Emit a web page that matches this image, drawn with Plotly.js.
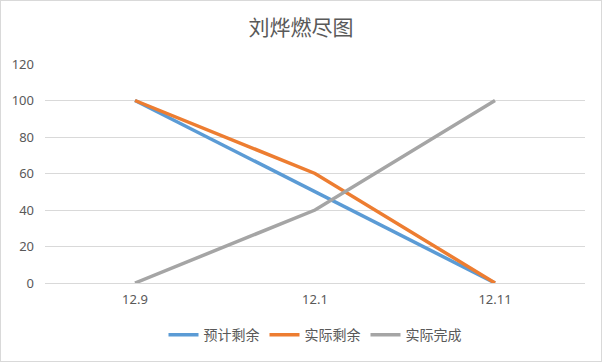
<!DOCTYPE html>
<html>
<head>
<meta charset="utf-8">
<script src="https://cdn.plot.ly/plotly-3.0.1.min.js"></script>
<style>
html,body{margin:0;padding:0;background:#fff;}
#wrap{width:600px;height:360px;border:1px solid #d9d9d9;}
#chart{width:600px;height:360px;}
</style>
</head>
<body>
<div id="wrap"><div id="chart"></div></div>
<script>
const categories = ["12.9", "12.1", "12.11"];
const plannedRemaining = [100, 50, 0];
const actualRemaining = [100, 60, 0];
const actualDone = [0, 40, 100];
const seriesNames = ["预计剩余", "实际剩余", "实际完成"];
const colors = ["#5B9BD5", "#ED7D31", "#A5A5A5"];

const font = "'Noto Sans', 'Noto Sans CJK SC', sans-serif";
const idx = categories.map((c, i) => i);
const traces = [plannedRemaining, actualRemaining, actualDone].map((ys, k) => ({
  type: "scatter",
  mode: "lines",
  x: idx,
  y: ys,
  name: seriesNames[k],
  line: {color: colors[k], width: 3.5}
}));

const layout = {
  width: 600, height: 360,
  margin: {l: 44, r: 16, t: 63, b: 78, autoexpand: false},
  paper_bgcolor: "#fff", plot_bgcolor: "#fff",
  title: {text: "刘烨燃尽图", font: {family: "'Noto Sans CJK SC', sans-serif", size: 21, color: "#595959"}, x: 0.5, xanchor: "center", y: 0.925, yanchor: "middle"},
  xaxis: {
    range: [-0.5, 2.5], tickmode: "array", tickvals: idx, ticktext: categories,
    showgrid: false, zeroline: false, showline: true, linecolor: "#d9d9d9", linewidth: 1,
    ticks: "", tickfont: {family: font, size: 13, color: "#595959"}, ticklabelstandoff: 4
  },
  yaxis: {
    range: [0, 120], dtick: 20, showgrid: true, gridcolor: "#d9d9d9", gridwidth: 1,
    zeroline: false, showline: false, ticks: "",
    tickfont: {family: font, size: 13, color: "#595959"}, ticklabelstandoff: 10
  },
  showlegend: true,
  legend: {orientation: "h", x: 0.5, xanchor: "center", yref: "container", y: 0.072, yanchor: "middle",
    font: {family: "'Noto Sans CJK SC', sans-serif", size: 14, color: "#595959"},
    tracegroupgap: 0}
};
Plotly.newPlot("chart", traces, layout, {displayModeBar: false, staticPlot: true});
</script>
</body>
</html>
